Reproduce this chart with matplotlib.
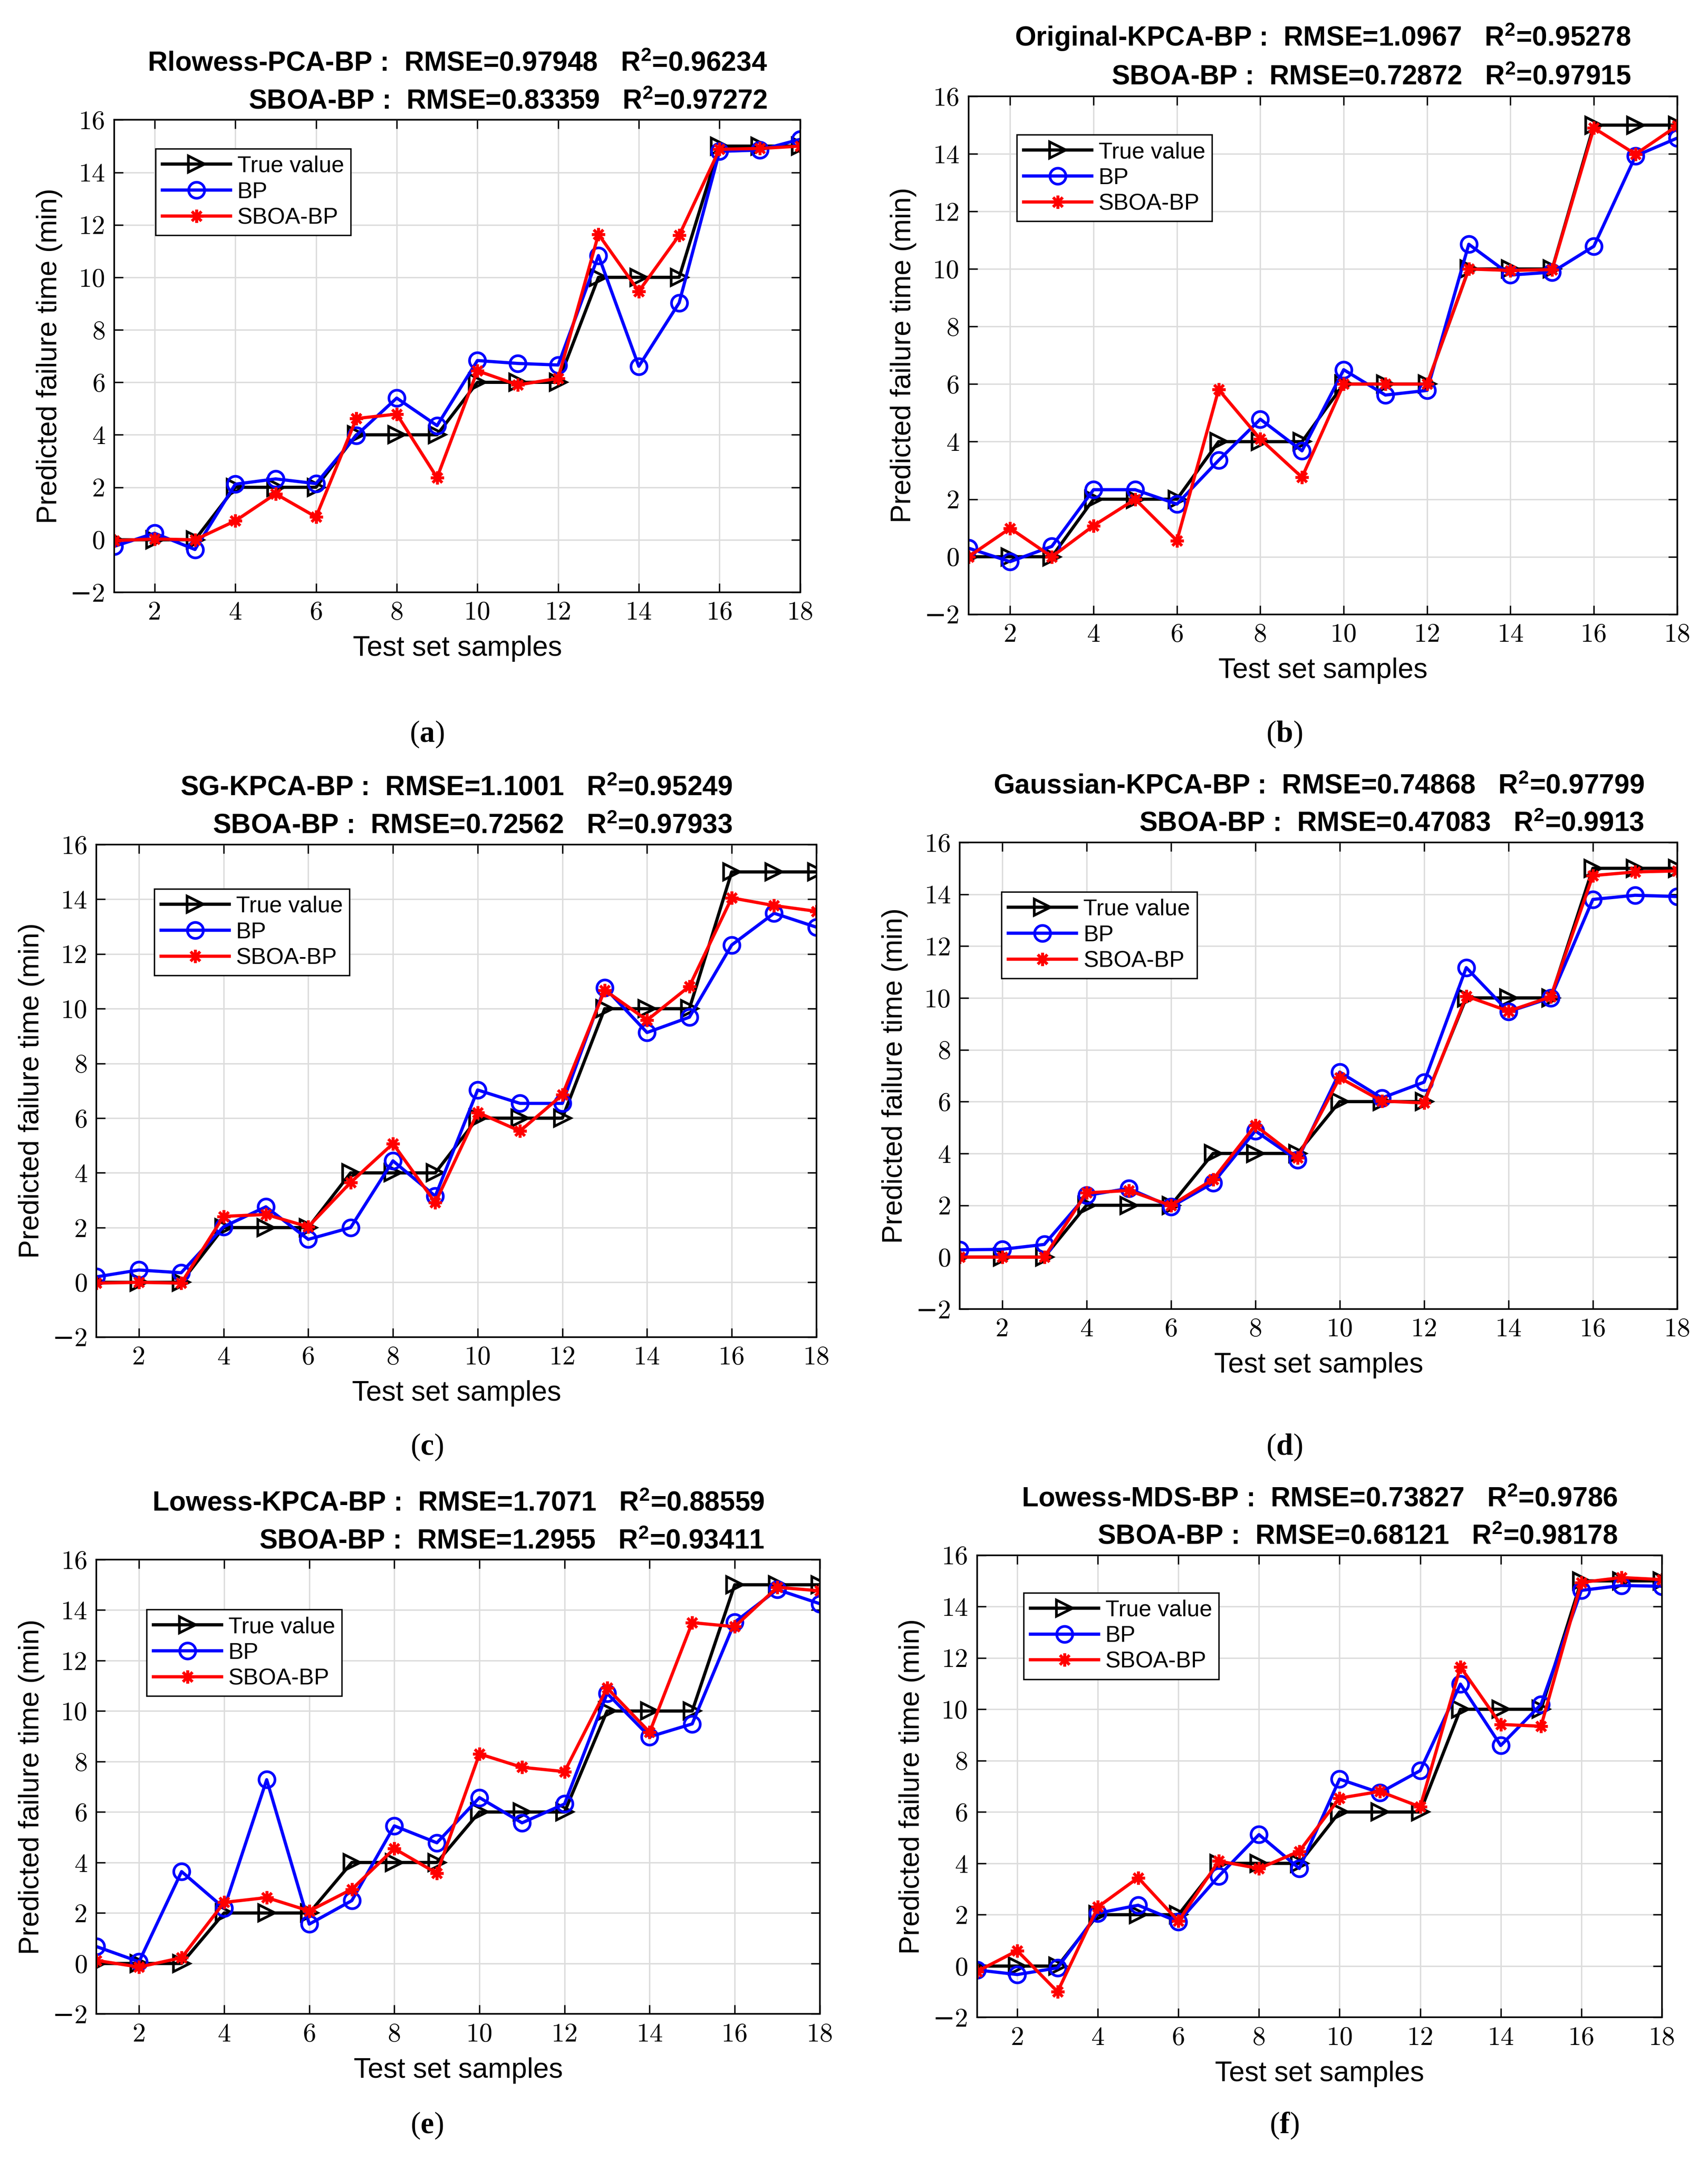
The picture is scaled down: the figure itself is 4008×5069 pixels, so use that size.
import matplotlib
matplotlib.use("Agg")
import matplotlib.pyplot as plt
import numpy as np

plt.rcParams['mathtext.fontset'] = 'custom'
plt.rcParams['mathtext.rm'] = 'Liberation Sans:bold'
plt.rcParams['mathtext.it'] = 'Liberation Sans:bold'
plt.rcParams['mathtext.bf'] = 'Liberation Serif:bold'

# 数据
samples = list(range(1, 19))
true_value = [0, 0, 0, 2, 2, 2, 4, 4, 4, 6, 6, 6, 10, 10, 10, 15, 15, 15]

bp_a = [-0.25, 0.25, -0.37, 2.12, 2.32, 2.14, 3.98, 5.40, 4.35, 6.83, 6.72, 6.66, 10.83, 6.61, 9.03, 14.80, 14.85, 15.26]
sboa_a = [-0.03, 0.03, 0.0, 0.72, 1.75, 0.87, 4.62, 4.79, 2.37, 6.44, 5.90, 6.15, 11.64, 9.47, 11.60, 14.88, 14.91, 15.0]

bp_b = [0.30, -0.17, 0.36, 2.33, 2.33, 1.83, 3.35, 4.78, 3.68, 6.50, 5.62, 5.78, 10.86, 9.79, 9.89, 10.79, 13.93, 14.55]
sboa_b = [0.0, 0.99, 0.0, 1.08, 2.00, 0.56, 5.81, 4.09, 2.76, 6.0, 6.0, 6.0, 10.0, 9.95, 9.98, 14.90, 13.99, 14.98]

bp_c = [0.20, 0.45, 0.35, 2.03, 2.76, 1.57, 2.00, 4.44, 3.15, 7.03, 6.54, 6.54, 10.77, 9.13, 9.69, 12.33, 13.49, 12.98]
sboa_c = [-0.03, 0.0, -0.03, 2.41, 2.48, 2.03, 3.65, 5.07, 2.91, 6.21, 5.53, 6.85, 10.68, 9.58, 10.82, 14.05, 13.77, 13.56]

bp_d = [0.28, 0.30, 0.49, 2.38, 2.65, 1.94, 2.86, 4.87, 3.75, 7.14, 6.14, 6.75, 11.17, 9.47, 10.0, 13.80, 13.96, 13.91]
sboa_d = [0.0, 0.0, 0.0, 2.48, 2.57, 1.99, 3.00, 5.08, 3.83, 6.92, 6.02, 5.95, 10.07, 9.49, 10.04, 14.72, 14.86, 14.90]

bp_e = [0.67, 0.07, 3.64, 2.19, 7.28, 1.56, 2.49, 5.45, 4.78, 6.57, 5.57, 6.32, 10.70, 8.98, 9.49, 13.52, 14.81, 14.25]
sboa_e = [0.12, -0.14, 0.23, 2.42, 2.61, 2.08, 2.94, 4.55, 3.57, 8.30, 7.77, 7.60, 10.91, 9.16, 13.50, 13.34, 14.90, 14.76]

bp_f = [-0.15, -0.33, -0.07, 2.06, 2.37, 1.72, 3.50, 5.12, 3.80, 7.28, 6.75, 7.61, 10.98, 8.59, 10.19, 14.63, 14.82, 14.79]
sboa_f = [-0.21, 0.60, -1.00, 2.30, 3.44, 1.75, 4.09, 3.80, 4.47, 6.54, 6.80, 6.20, 11.65, 9.41, 9.34, 14.94, 15.13, 15.05]

titles = [
    ('Rlowess-PCA-BP :  RMSE=0.97948   R$^{2}$=0.96234', 'SBOA-BP :  RMSE=0.83359   R$^{2}$=0.97272'),
    ('Original-KPCA-BP :  RMSE=1.0967   R$^{2}$=0.95278', 'SBOA-BP :  RMSE=0.72872   R$^{2}$=0.97915'),
    ('SG-KPCA-BP :  RMSE=1.1001   R$^{2}$=0.95249', 'SBOA-BP :  RMSE=0.72562   R$^{2}$=0.97933'),
    ('Gaussian-KPCA-BP :  RMSE=0.74868   R$^{2}$=0.97799', 'SBOA-BP :  RMSE=0.47083   R$^{2}$=0.9913'),
    ('Lowess-KPCA-BP :  RMSE=1.7071   R$^{2}$=0.88559', 'SBOA-BP :  RMSE=1.2955   R$^{2}$=0.93411'),
    ('Lowess-MDS-BP :  RMSE=0.73827   R$^{2}$=0.9786', 'SBOA-BP :  RMSE=0.68121   R$^{2}$=0.98178'),
]
letters = ['a', 'b', 'c', 'd', 'e', 'f']
bp_all = [bp_a, bp_b, bp_c, bp_d, bp_e, bp_f]
sboa_all = [sboa_a, sboa_b, sboa_c, sboa_d, sboa_e, sboa_f]

# 各子图位置 [left, bottom, width, height]
boxes = [
    [0.0669, 0.7258, 0.4016, 0.2187],
    [0.567, 0.7156, 0.415, 0.2398],
    [0.0565, 0.381, 0.4215, 0.228],
    [0.562, 0.394, 0.420, 0.216],
    [0.0565, 0.0676, 0.4235, 0.2104],
    [0.572, 0.066, 0.401, 0.214],
]
leg_anchor = [(0.06, 0.939), (0.068, 0.926), (0.08, 0.91), (0.058, 0.894), (0.069, 0.89), (0.068, 0.919)]
caption_pos = [(0.25, 0.66), (0.752, 0.66), (0.25, 0.33), (0.752, 0.33), (0.25, 0.016), (0.752, 0.016)]

fig = plt.figure(figsize=(4008 / 300, 5069 / 300), dpi=300)
sans = 'Liberation Sans'
tickfont = ['cmr10', 'DejaVu Serif']

for i in range(6):
    ax = fig.add_axes(boxes[i])
    ax.plot(samples, true_value, color='black', lw=1.8, marker='>', ms=9,
            mfc='none', mew=1.5, label='True value')
    ax.plot(samples, bp_all[i], color='blue', lw=1.8, marker='o', ms=9,
            mfc='none', mew=1.5, label='BP')
    ax.plot(samples, sboa_all[i], color='red', lw=1.8, marker=(8, 2, 0), ms=7.5,
            mew=1.6, label='SBOA-BP')
    ax.set_xlim(1, 18)
    ax.set_ylim(-2, 16)
    ax.set_xticks(range(2, 19, 2))
    ax.set_yticks(range(-2, 17, 2))
    ax.set_xticklabels([str(v) for v in range(2, 19, 2)], fontfamily=tickfont, fontsize=15)
    ax.set_yticklabels([str(v).replace('-', '\u2212') for v in range(-2, 17, 2)], fontfamily=tickfont, fontsize=15)
    ax.grid(True, color='#dcdcdc', lw=0.8)
    ax.set_axisbelow(True)
    ax.tick_params(direction='in', top=True, right=True, length=5, width=0.8, pad=5)
    for s in ax.spines.values():
        s.set_linewidth(0.9)
    ax.set_xlabel('Test set samples', family=sans, fontsize=15.8, labelpad=6)
    ax.set_ylabel('Predicted failure time (min)', family=sans, fontsize=15.8, labelpad=4)
    leg = ax.legend(loc='upper left', bbox_to_anchor=leg_anchor[i], prop={'family': sans, 'size': 12.8},
                    fancybox=False, edgecolor='black', framealpha=1, handlelength=3,
                    borderpad=0.3, labelspacing=0.2, handletextpad=0.3, borderaxespad=0)
    leg.get_frame().set_linewidth(0.8)
    t1, t2 = titles[i]
    ax.text(0.5, 1.012, t1 + '\n' + t2, transform=ax.transAxes, ha='center', va='bottom',
            multialignment='right', family=sans, fontweight='bold', fontsize=15.4, linespacing=1.6)
    fig.text(caption_pos[i][0], caption_pos[i][1], '($\\mathbf{' + letters[i] + '}$)',
             family='Liberation Serif', fontsize=17, ha='center', va='center')

fig.savefig('out.png', dpi=300)
